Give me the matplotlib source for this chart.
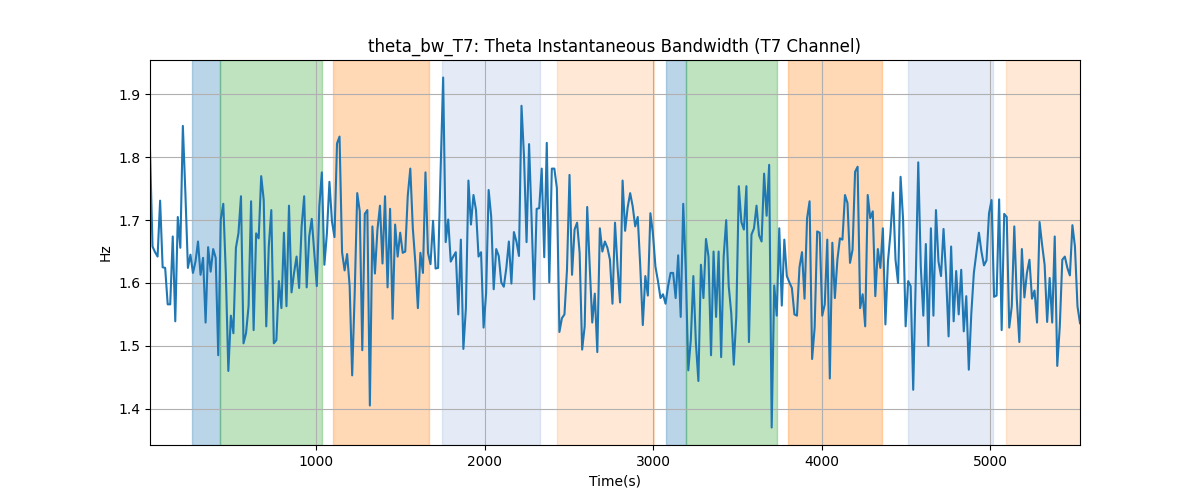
import numpy as np
import matplotlib
matplotlib.use('Agg')
import matplotlib.pyplot as plt

# sampling grid of the bandwidth series
t_start = 13
t_step = 15.0

hz = [
    1.812, 1.658, 1.649, 1.642, 1.731, 1.625, 1.624, 1.566, 1.566, 1.674,
    1.539, 1.705, 1.656, 1.850, 1.743, 1.624, 1.645, 1.616, 1.634, 1.666,
    1.613, 1.640, 1.537, 1.657, 1.618, 1.654, 1.640, 1.485, 1.701, 1.726,
    1.616, 1.460, 1.548, 1.520, 1.656, 1.679, 1.738, 1.504, 1.520, 1.563,
    1.730, 1.525, 1.679, 1.671, 1.770, 1.732, 1.531, 1.658, 1.716, 1.504,
    1.509, 1.603, 1.560, 1.680, 1.563, 1.723, 1.585, 1.616, 1.642, 1.592,
    1.690, 1.738, 1.593, 1.674, 1.702, 1.648, 1.595, 1.722, 1.776, 1.629,
    1.679, 1.761, 1.698, 1.673, 1.822, 1.833, 1.649, 1.620, 1.646, 1.595,
    1.453, 1.584, 1.743, 1.714, 1.493, 1.710, 1.716, 1.405, 1.690, 1.615,
    1.685, 1.723, 1.631, 1.738, 1.593, 1.718, 1.543, 1.693, 1.642, 1.680,
    1.648, 1.650, 1.739, 1.782, 1.687, 1.632, 1.560, 1.648, 1.616, 1.776,
    1.648, 1.630, 1.699, 1.623, 1.624, 1.780, 1.927, 1.665, 1.701, 1.634,
    1.642, 1.649, 1.550, 1.669, 1.495, 1.560, 1.763, 1.693, 1.740, 1.716,
    1.642, 1.649, 1.529, 1.584, 1.748, 1.706, 1.590, 1.654, 1.643, 1.601,
    1.594, 1.624, 1.666, 1.599, 1.681, 1.666, 1.643, 1.882, 1.801, 1.665,
    1.821, 1.701, 1.574, 1.718, 1.719, 1.782, 1.641, 1.823, 1.601, 1.782,
    1.782, 1.751, 1.522, 1.544, 1.550, 1.621, 1.772, 1.613, 1.685, 1.696,
    1.648, 1.494, 1.531, 1.721, 1.626, 1.537, 1.583, 1.490, 1.687, 1.650,
    1.666, 1.656, 1.637, 1.567, 1.696, 1.626, 1.569, 1.763, 1.683, 1.720,
    1.743, 1.722, 1.690, 1.705, 1.626, 1.533, 1.611, 1.580, 1.711, 1.679,
    1.626, 1.603, 1.576, 1.582, 1.567, 1.595, 1.616, 1.616, 1.576, 1.644,
    1.546, 1.726, 1.621, 1.461, 1.510, 1.611, 1.505, 1.444, 1.629, 1.576,
    1.670, 1.642, 1.485, 1.650, 1.546, 1.650, 1.482, 1.642, 1.700, 1.595,
    1.552, 1.470, 1.547, 1.754, 1.697, 1.685, 1.754, 1.506, 1.677, 1.687,
    1.723, 1.676, 1.666, 1.774, 1.707, 1.788, 1.370, 1.596, 1.548, 1.687,
    1.564, 1.669, 1.611, 1.601, 1.592, 1.550, 1.548, 1.625, 1.649, 1.575,
    1.703, 1.730, 1.479, 1.529, 1.682, 1.680, 1.548, 1.566, 1.669, 1.448,
    1.664, 1.576, 1.637, 1.671, 1.669, 1.740, 1.727, 1.632, 1.653, 1.777,
    1.785, 1.560, 1.582, 1.531, 1.740, 1.703, 1.714, 1.579, 1.654, 1.624,
    1.687, 1.534, 1.634, 1.679, 1.744, 1.637, 1.600, 1.769, 1.701, 1.531,
    1.603, 1.595, 1.430, 1.605, 1.792, 1.626, 1.548, 1.662, 1.500, 1.687,
    1.548, 1.716, 1.634, 1.611, 1.686, 1.613, 1.515, 1.658, 1.539, 1.619,
    1.550, 1.621, 1.523, 1.579, 1.462, 1.552, 1.616, 1.648, 1.680, 1.650,
    1.628, 1.636, 1.711, 1.732, 1.578, 1.580, 1.733, 1.525, 1.710, 1.705,
    1.529, 1.563, 1.690, 1.574, 1.506, 1.654, 1.577, 1.616, 1.637, 1.575,
    1.588, 1.537, 1.697, 1.661, 1.629, 1.538, 1.608, 1.537, 1.674, 1.468,
    1.531, 1.637, 1.642, 1.624, 1.612, 1.692, 1.658, 1.563, 1.536,
]

# shaded stages: start, end, colour, alpha
span_start = [262, 428, 1099, 1746, 2428, 3075, 3196, 3801, 4512, 5094]
span_end = [428, 1032, 1671, 2326, 3002, 3196, 3736, 4356, 5018, 5560]
span_color = ['tab:blue', 'tab:green', 'tab:orange', '#5b86c8', 'tab:orange',
              'tab:blue', 'tab:green', 'tab:orange', '#5b86c8', 'tab:orange']
span_alpha = [0.3, 0.3, 0.3, 0.16, 0.17, 0.3, 0.3, 0.3, 0.16, 0.17]

hz = np.array(hz)
t = t_start + t_step * np.arange(len(hz))

fig, ax = plt.subplots(figsize=(12, 5), dpi=100)

for s, e, c, a in zip(span_start, span_end, span_color, span_alpha):
    ax.axvspan(s, e, color=c, alpha=a)

ax.plot(t, hz, color='tab:blue', linewidth=1.5)

ax.set_xlim(t[0], t[-1])
ax.grid(True)
ax.set_title('theta_bw_T7: Theta Instantaneous Bandwidth (T7 Channel)')
ax.set_xlabel('Time(s)')
ax.set_ylabel('Hz')

plt.savefig('out.png')
